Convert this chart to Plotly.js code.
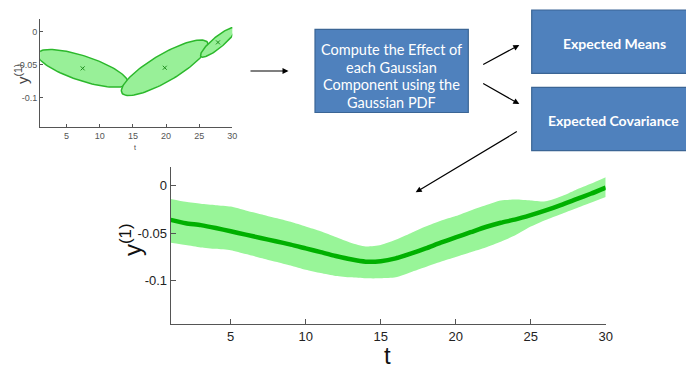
<!DOCTYPE html>
<html>
<head>
<meta charset="utf-8">
<script src="https://cdn.plot.ly/plotly-3.0.1.min.js"></script>
<style>
  html, body { margin: 0; padding: 0; background: #ffffff; }
  #chart { width: 686px; height: 369px; }
</style>
</head>
<body>
<div id="chart"></div>
<script>
// Time steps of the trajectory
const t = [1, 2, 3, 4, 5, 6, 7, 8, 9, 10, 11, 12, 13, 14, 15,
           16, 17, 18, 19, 20, 21, 22, 23, 24, 25, 26, 27, 28, 29, 30];

// Expected mean of y(1) at each step
const meanY = [-0.036, -0.0395, -0.0415, -0.0445, -0.048, -0.0515, -0.055, -0.0585, -0.062, -0.066,
               -0.070, -0.074, -0.0775, -0.080, -0.0795, -0.0765, -0.0715, -0.066, -0.060, -0.0545,
               -0.049, -0.0435, -0.039, -0.0355, -0.031, -0.026, -0.0205, -0.0145, -0.0085, -0.002];

// Upper and lower edges of the expected-covariance band
const upperY = [-0.014, -0.017, -0.019, -0.0205, -0.022, -0.026, -0.030, -0.034, -0.038, -0.043,
                -0.048, -0.054, -0.060, -0.064, -0.0625, -0.057, -0.050, -0.043, -0.037, -0.032,
                -0.026, -0.0205, -0.0155, -0.0145, -0.0155, -0.0165, -0.0115, -0.0045, 0.002, 0.009];
const lowerY = [-0.060, -0.0625, -0.065, -0.0665, -0.068, -0.072, -0.076, -0.080, -0.084, -0.0885,
                -0.092, -0.095, -0.0965, -0.0975, -0.0975, -0.0965, -0.091, -0.0855, -0.080, -0.075,
                -0.070, -0.065, -0.059, -0.052, -0.043, -0.036, -0.030, -0.024, -0.018, -0.012];

// Gaussian components: centre, conjugate half-axis along the ellipse, vertical half-thickness
const compT  = [7.42, 19.81, 27.84];
const compY  = [-0.0558, -0.0549, -0.0162];
const axisT  = [6.82, 6.55, 2.64];
const axisY  = [-0.0209, 0.0351, 0.0198];
const halfH  = [0.0198, 0.0236, 0.0107];

// Axis ticks
const xTicks = [5, 10, 15, 20, 25, 30];
const yTicks = [0, -0.05, -0.1];
const yTickText = ['0', '-0.05', '-0.1'];

// Flow-chart labels
const stepLines = ['Compute the Effect of', 'each Gaussian', 'Component using the', 'Gaussian PDF'];
const meansText = 'Expected Means';
const covText = 'Expected Covariance';

const W = 686, H = 369;
const px = v => v / W;
const py = v => 1 - v / H;

const bandFill = '#98f598';
const meanColor = '#00b000';
const ellFill = '#98f098';
const ellLine = '#2cb82c';
const boxFill = '#4f81bd';
const boxLine = '#3b6595';
const axisColor = '#555555';

const traces = [];

// Covariance band
traces.push({
  x: t, y: lowerY, xaxis: 'x', yaxis: 'y', mode: 'lines',
  line: { color: bandFill, width: 0, shape: 'spline', smoothing: 0.6 },
  hoverinfo: 'skip', showlegend: false
});
traces.push({
  x: t, y: upperY, xaxis: 'x', yaxis: 'y', mode: 'lines', fill: 'tonexty',
  fillcolor: bandFill,
  line: { color: bandFill, width: 0, shape: 'spline', smoothing: 0.6 },
  hoverinfo: 'skip', showlegend: false
});
// Mean trajectory
traces.push({
  x: t, y: meanY, xaxis: 'x', yaxis: 'y', mode: 'lines',
  line: { color: meanColor, width: 4.5, shape: 'spline', smoothing: 0.6 },
  showlegend: false
});

// Component ellipses on the small axes
for (let k = 0; k < compT.length; k++) {
  const ex = [], ey = [];
  const n = 120;
  for (let i = 0; i <= n; i++) {
    const a = 2 * Math.PI * i / n;
    ex.push(compT[k] + axisT[k] * Math.cos(a));
    ey.push(compY[k] + axisY[k] * Math.cos(a) + halfH[k] * Math.sin(a));
  }
  traces.push({
    x: ex, y: ey, xaxis: 'x2', yaxis: 'y2', mode: 'lines', fill: 'toself',
    fillcolor: ellFill, line: { color: ellLine, width: 1.5 },
    hoverinfo: 'skip', showlegend: false
  });
}
// Component centres
traces.push({
  x: compT, y: compY, xaxis: 'x2', yaxis: 'y2', mode: 'markers',
  marker: { symbol: 'x-thin', size: 4, line: { width: 1, color: '#1f8f1f' } },
  showlegend: false
});

const bigTickFont = { family: 'Liberation Sans, Arial, sans-serif', size: 13, color: '#222222' };
const smallTickFont = { family: 'Liberation Sans Narrow, Arial Narrow, Liberation Sans, sans-serif', size: 9, color: '#555555' };

const axisCommon = {
  showgrid: false, zeroline: false, showline: true, linecolor: axisColor, linewidth: 1,
  ticks: 'inside', tickcolor: axisColor, mirror: false, fixedrange: true
};

// Text placed at a pixel position, centred on it
function label(x, y, text, font, extra) {
  return Object.assign({
    xref: 'paper', yref: 'paper', x: px(x), y: py(y), text: text, showarrow: false,
    xanchor: 'center', yanchor: 'middle', font: font
  }, extra || {});
}
// Arrow from a tail point to a head point, both in pixels
function arrow(x0, y0, x1, y1) {
  return {
    xref: 'paper', yref: 'paper', x: px(x1), y: py(y1), ax: x0 - x1, ay: y0 - y1,
    axref: 'pixel', ayref: 'pixel', text: '', showarrow: true,
    arrowhead: 2, arrowsize: 1, arrowwidth: 1.2, arrowcolor: '#000000', standoff: 0, startstandoff: 0
  };
}

const boxFont = { family: 'Lato, Open Sans, sans-serif', size: 14.5, color: '#ffffff' };
const boxFontBold = { family: 'Lato, Open Sans, sans-serif', size: 14, color: '#ffffff', weight: 'bold' };

const annotations = [
  // axis titles
  label(131, 240, 'y<sup>(1)</sup>', { family: 'Liberation Sans, Arial, sans-serif', size: 24, color: '#111111' }, { textangle: -90 }),
  label(387, 355, 't', { family: 'Liberation Sans, Arial, sans-serif', size: 24, color: '#111111' }),
  label(21, 74, 'y<sup>(1)</sup>', { family: 'Liberation Sans Narrow, Liberation Sans, sans-serif', size: 15, color: '#444444' }, { textangle: -90 }),
  label(135, 147, 't', { family: 'Liberation Sans, sans-serif', size: 7, color: '#444444' }),
  // box labels
  label(614, 44, meansText, boxFontBold),
  label(613, 120.5, covText, boxFontBold),
  // flow arrows
  arrow(249, 71, 288.5, 71),
  arrow(481.7, 65.3, 519.3, 45),
  arrow(481.7, 82.7, 519.3, 104),
  arrow(518.3, 130.7, 415.7, 192.3)
];
stepLines.forEach((s, i) => annotations.push(label(391.6, 49.3 + i * 17.7, s, boxFont)));

const layout = {
  width: W, height: H,
  margin: { l: 0, r: 0, t: 0, b: 0 },
  paper_bgcolor: '#ffffff', plot_bgcolor: 'rgba(0,0,0,0)',
  showlegend: false,
  xaxis: Object.assign({}, axisCommon, {
    domain: [px(170.7), px(605.7)], range: [1, 30], anchor: 'y',
    tickvals: xTicks, ticklen: 5, tickfont: bigTickFont
  }),
  yaxis: Object.assign({}, axisCommon, {
    domain: [py(324), py(166.7)], range: [-0.1456, 0.02], anchor: 'x',
    tickvals: yTicks, ticktext: yTickText, ticklen: 5, tickfont: bigTickFont
  }),
  xaxis2: Object.assign({}, axisCommon, {
    domain: [px(40.1), px(232.3)], range: [1, 30], anchor: 'y2',
    tickvals: xTicks, ticklen: 3, tickfont: smallTickFont
  }),
  yaxis2: Object.assign({}, axisCommon, {
    domain: [py(127.3), py(18.6)], range: [-0.1456, 0.02], anchor: 'x2',
    tickvals: yTicks, ticktext: yTickText, ticklen: 3, tickfont: smallTickFont
  }),
  shapes: [
    { type: 'rect', xref: 'paper', yref: 'paper', x0: px(315), x1: px(468.3), y0: py(112.5), y1: py(29.3),
      fillcolor: boxFill, line: { color: boxLine, width: 1.2 } },
    { type: 'rect', xref: 'paper', yref: 'paper', x0: px(531.7), x1: px(700), y0: py(73.3), y1: py(10),
      fillcolor: boxFill, line: { color: boxLine, width: 1.2 } },
    { type: 'rect', xref: 'paper', yref: 'paper', x0: px(531.7), x1: px(700), y0: py(150.7), y1: py(87.3),
      fillcolor: boxFill, line: { color: boxLine, width: 1.2 } }
  ],
  annotations: annotations
};

Plotly.newPlot('chart', traces, layout, { staticPlot: true, displayModeBar: false });
</script>
</body>
</html>
